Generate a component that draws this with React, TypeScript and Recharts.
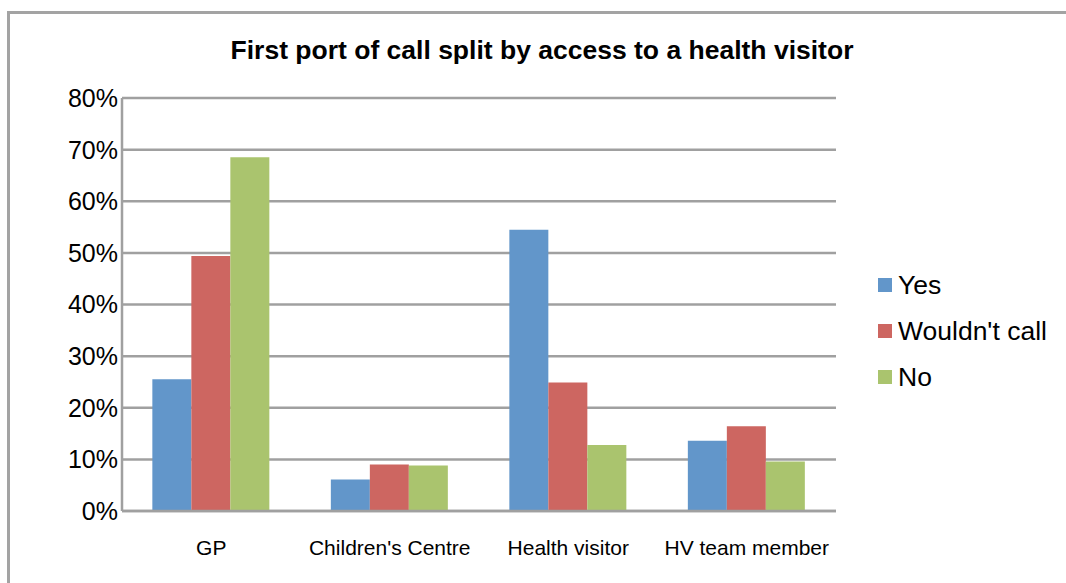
import React from "react";
import { BarChart, Bar, XAxis, YAxis, CartesianGrid } from "recharts";

const categories = ["GP", "Children's Centre", "Health visitor", "HV team member"];
const yesValues = [25.5, 6.1, 54.5, 13.6];
const wouldntValues = [49.4, 9.0, 24.9, 16.4];
const noValues = [68.5, 8.8, 12.8, 9.6];
const yTicks = [0, 10, 20, 30, 40, 50, 60, 70, 80];

const seriesNames = ["Yes", "Wouldn't call", "No"];
const seriesKeys = ["yes", "wouldnt", "no"];
const seriesColors = ["#6296CA", "#CD6661", "#AAC46E"];

const data = categories.map((c, i) => ({
  name: c,
  yes: yesValues[i],
  wouldnt: wouldntValues[i],
  no: noValues[i],
}));

const FONT = "'Liberation Sans', Arial, sans-serif";
const GRID = "#A0A0A0";

const LegendBox = () => (
  <div style={{ position: "absolute", left: 878, top: 262, fontFamily: FONT }}>
    {seriesNames.map((n, i) => (
      <div key={n} style={{ display: "flex", alignItems: "center", height: 46 }}>
        <div style={{ width: 14, height: 14, background: seriesColors[i], marginRight: 6 }} />
        <span style={{ fontSize: 26.5, color: "#000", lineHeight: 1 }}>{n}</span>
      </div>
    ))}
  </div>
);

export default function App() {
  return (
    <div style={{ position: "absolute", left: 0, top: 0, width: 1066, height: 583, background: "#fff", overflow: "hidden" }}>
      <div
        style={{
          position: "absolute",
          left: 7,
          top: 11,
          width: 1100,
          height: 600,
          borderLeft: "3px solid #A3A3A3",
          borderTop: "3px solid #A3A3A3",
        }}
      />
      <div
        style={{
          position: "absolute",
          left: 0,
          width: 1084,
          top: 37,
          textAlign: "center",
          fontFamily: FONT,
          fontWeight: "bold",
          fontSize: 26.5,
          lineHeight: 1,
          color: "#000",
          zIndex: 2,
        }}
      >
        First port of call split by access to a health visitor
      </div>
      <div style={{ position: "absolute", left: 0, top: 0 }}>
        <BarChart
          width={1066}
          height={583}
          data={data}
          margin={{ top: 98, right: 230, bottom: 0, left: 62 }}
          barCategoryGap="17%"
          barGap={0}
        >
          <CartesianGrid horizontal={true} vertical={false} stroke={GRID} strokeWidth={2.5} />
          <XAxis
            dataKey="name"
            axisLine={{ stroke: GRID, strokeWidth: 2.5 }}
            tickLine={false}
            tickSize={0}
            tickMargin={29}
            height={72}
            interval={0}
            tick={{ fill: "#000", fontSize: 21, fontFamily: FONT }}
          />
          <YAxis
            width={60}
            domain={[0, 80]}
            ticks={yTicks}
            interval={0}
            tickFormatter={(v) => `${v}%`}
            axisLine={{ stroke: GRID, strokeWidth: 2.5 }}
            tickLine={false}
            tickSize={0}
            tickMargin={4}
            tick={{ fill: "#000", fontSize: 25, fontFamily: FONT }}
          />
          {seriesKeys.map((k, i) => (
            <Bar key={k} dataKey={k} name={seriesNames[i]} fill={seriesColors[i]} isAnimationActive={false} />
          ))}
        </BarChart>
      </div>
      <LegendBox />
    </div>
  );
}
